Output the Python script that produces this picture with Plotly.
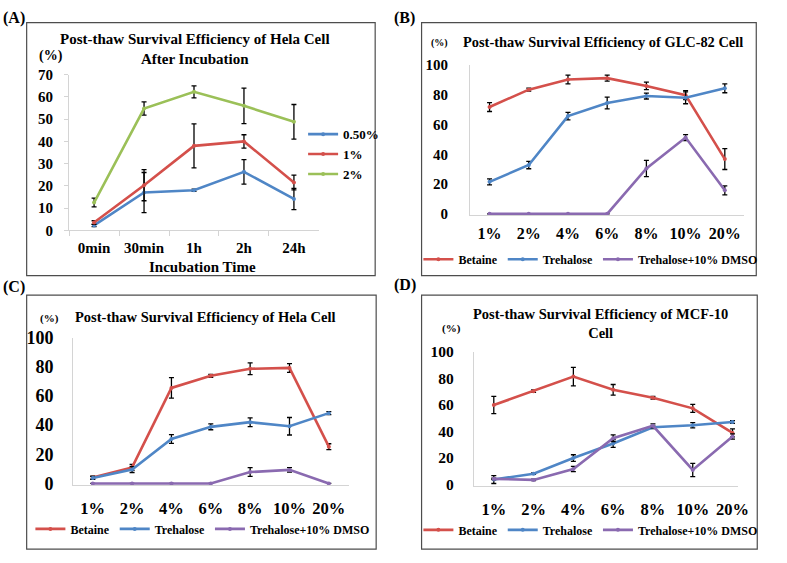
import plotly.graph_objects as go

# ---------------- data ----------------
time_cats = ["0min", "30min", "1h", "2h", "24h"]
a_series_names = ["0.50%", "1%", "2%"]
a_05 = [2.2, 17.0, 18.0, 26.3, 14.1]
a_05_err = [0.5, 9.0, 0.5, 5.5, 4.8]
a_1 = [3.5, 20.3, 38.0, 40.0, 21.5]
a_1_err = [0.8, 7.0, 9.9, 3.0, 3.3]
a_2 = [12.5, 54.8, 62.3, 56.0, 48.8]
a_2_err = [2.0, 3.0, 2.7, 8.0, 7.8]

conc_cats = ["1%", "2%", "4%", "6%", "8%", "10%", "20%"]
series_names = ["Betaine", "Trehalose", "Trehalose+10% DMSO"]

b_bet = [71.8, 83.5, 90.3, 91.2, 86.0, 79.8, 36.8]
b_bet_err = [3, 1, 3, 2, 2.5, 3, 7]
b_tre = [21.5, 32.8, 65.7, 74.5, 79.2, 78.0, 84.4]
b_tre_err = [2, 2.5, 2.5, 4, 2, 4, 3]
b_dmso = [0, 0, 0, 0, 30.5, 51.3, 15.8]
b_dmso_err = [0, 0, 0, 0, 5.5, 2, 3]

c_bet = [4.0, 11.0, 65.5, 73.8, 78.6, 79.2, 25.2]
c_bet_err = [1, 2, 7, 1, 4, 3, 2]
c_tre = [3.8, 9.5, 30.5, 38.8, 42.0, 39.2, 48.2]
c_tre_err = [1, 2, 3, 2, 3, 6, 1]
c_dmso = [0, 0, 0, 0, 7.8, 9.3, 0]
c_dmso_err = [0, 0, 0, 0, 3, 1.5, 0]

d_bet = [60.0, 70.5, 81.5, 71.5, 65.5, 57.5, 39.0]
d_bet_err = [6.5, 1, 7, 4, 1, 3, 3]
d_tre = [3.8, 8.2, 20.0, 31.0, 43.2, 44.8, 47.2]
d_tre_err = [3, 0.5, 2.5, 3, 1, 2, 1]
d_dmso = [4.3, 3.5, 11.7, 35.0, 44.3, 11.0, 36.3]
d_dmso_err = [0.5, 0.5, 2, 2.5, 1.5, 5, 2]

# ---------------- style ----------------
W, H = 787, 563
BLUE, RED, GREEN, PURPLE = "#4F86C6", "#D4504B", "#9BC058", "#8A6AB0"
FONT = "Liberation Serif"
AXLINE = "#d4d4d4"


def px(x):
    return x / W


def py(y):
    return 1 - y / H


fig = go.Figure()


def add_series(x, y, err, color, name, xa, ya, legend):
    fig.add_trace(go.Scatter(
        x=x, y=y, name=name, mode="lines+markers",
        line=dict(color=color, width=2.6),
        marker=dict(color=color, size=4),
        error_y=dict(type="data", array=err, visible=True, color="black",
                     thickness=1.3, width=2.5),
        xaxis=xa, yaxis=ya, legend=legend,
    ))


# Panel A
add_series(time_cats, a_05, a_05_err, BLUE, a_series_names[0], "x", "y", "legend")
add_series(time_cats, a_1, a_1_err, RED, a_series_names[1], "x", "y", "legend")
add_series(time_cats, a_2, a_2_err, GREEN, a_series_names[2], "x", "y", "legend")

# Panels B, C, D
panels = [
    ("x2", "y2", "legend2", [b_bet, b_tre, b_dmso], [b_bet_err, b_tre_err, b_dmso_err]),
    ("x3", "y3", "legend3", [c_bet, c_tre, c_dmso], [c_bet_err, c_tre_err, c_dmso_err]),
    ("x4", "y4", "legend4", [d_bet, d_tre, d_dmso], [d_bet_err, d_tre_err, d_dmso_err]),
]
for xa, ya, lg, vals, errs in panels:
    for v, e, c, n in zip(vals, errs, [RED, BLUE, PURPLE], series_names):
        add_series(conc_cats, v, e, c, n, xa, ya, lg)


def xaxis(dom, anchor, rng, size, standoff, ticks=False):
    d = dict(domain=dom, anchor=anchor, type="category", range=rng,
             showline=True, linecolor=AXLINE, linewidth=1, showgrid=False,
             zeroline=False, fixedrange=True,
             tickfont=dict(family=FONT, size=size, color="black", weight="bold"),
             ticklabelstandoff=standoff)
    if ticks:
        d.update(ticks="outside", tickson="boundaries", ticklen=5, tickcolor=AXLINE)
    else:
        d.update(ticks="")
    return d


def yaxis(dom, anchor, rng, dtick, size, standoff, ticks=False):
    d = dict(domain=dom, anchor=anchor, range=rng, dtick=dtick, tick0=0,
             showline=True, linecolor=AXLINE, linewidth=1, showgrid=False,
             zeroline=False, fixedrange=True,
             tickfont=dict(family=FONT, size=size, color="black", weight="bold"),
             ticklabelstandoff=standoff)
    if ticks:
        d.update(ticks="outside", ticklen=4, tickcolor=AXLINE)
    else:
        d.update(ticks="")
    return d


layout = dict(
    width=W, height=H, margin=dict(l=0, r=0, t=0, b=0),
    paper_bgcolor="white", plot_bgcolor="white",
    font=dict(family=FONT, color="black"),
    xaxis=xaxis([px(70), px(323)], "y", [-0.5, 4.5], 15, 4, ticks=True),
    yaxis=yaxis([py(228), py(67)], "x", [0, 70], 10, 15, 8, ticks=True),
    xaxis2=xaxis([px(476), px(754)], "y2", [-0.5, 6.5], 16, 3),
    yaxis2=yaxis([py(212.5), py(57)], "x2", [-1, 100], 20, 15, 18),
    xaxis3=xaxis([px(74), px(353)], "y3", [-0.5, 6.5], 16.5, 8),
    yaxis3=yaxis([py(491.5), py(339)], "x3", [-1, 100], 20, 18, 15),
    xaxis4=xaxis([px(480), px(748)], "y4", [-0.5, 6.15], 16.5, 8),
    yaxis4=yaxis([py(492.5), py(354)], "x4", [-1, 100], 20, 15.5, 16),
    showlegend=True,
)

leg_font = dict(family=FONT, size=12, color="black", weight="bold")
layout["legend"] = dict(x=px(307), y=py(113), xanchor="left", yanchor="top",
                        orientation="v", bgcolor="rgba(0,0,0,0)",
                        font=dict(family=FONT, size=13, color="black", weight="bold"),
                        tracegroupgap=0, itemwidth=30)
layout["legend2"] = dict(x=px(598), y=py(258), xanchor="center", yanchor="middle",
                         orientation="h", bgcolor="rgba(0,0,0,0)", font=leg_font,
                         itemwidth=30)
layout["legend3"] = dict(x=px(205), y=py(537), xanchor="center", yanchor="middle",
                         orientation="h", bgcolor="rgba(0,0,0,0)", font=leg_font,
                         itemwidth=30)
layout["legend4"] = dict(x=px(598), y=py(538), xanchor="center", yanchor="middle",
                         orientation="h", bgcolor="rgba(0,0,0,0)", font=leg_font,
                         itemwidth=30)

fig.update_layout(**layout)

# panel frames
boxes = [(27, 13, 380, 275), (427, 13, 766, 275), (27, 295, 381, 558), (427, 295, 767, 558)]
for x0, y0, x1, y1 in boxes:
    fig.add_shape(type="rect", xref="paper", yref="paper",
                  x0=px(x0), x1=px(x1), y0=py(y1), y1=py(y0),
                  line=dict(color="#4d4d4d", width=1.2), fillcolor="rgba(0,0,0,0)")


def note(text, x, y, size, xanchor="center"):
    fig.add_annotation(text=text, xref="paper", yref="paper", x=px(x), y=py(y),
                       xanchor=xanchor, yanchor="middle", showarrow=False,
                       font=dict(family=FONT, size=size, color="black", weight="bold"))


note("(A)", 1, 8, 16, "left")
note("(B)", 397, 8, 16, "left")
note("(C)", 1, 287, 16, "left")
note("(D)", 397, 285, 16, "left")

note("Post-thaw Survival Efficiency of Hela Cell<br>After Incubation", 198, 40, 15)
note("(%)", 52, 48, 14)
note("Incubation Time", 205, 266, 15)

note("(%)", 445, 34, 10)
note("Post-thaw Survival Efficiency of GLC-82 Cell", 467, 33, 14.4, "left")

note("(%)", 50, 319, 11)
note("Post-thaw Survival Efficiency of Hela Cell", 74, 318, 14.5, "left")

note("Post-thaw Survival Efficiency of MCF-10<br>Cell", 608, 324, 14.5)
note("(%)", 457, 330, 11)

fig.write_html("out.html", config={"displayModeBar": False},
               post_script="document.body.style.margin='0';")
